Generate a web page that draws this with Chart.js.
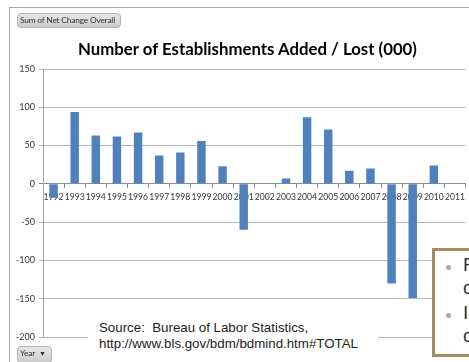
<!DOCTYPE html>
<html>
<head>
<meta charset="utf-8">
<script src="https://cdn.jsdelivr.net/npm/chart.js@4.4.1/dist/chart.umd.min.js"></script>
<style>
body { margin: 0; background: #fff; }
#wrap { position: relative; width: 469px; height: 362px; overflow: hidden; font-family: Lato, sans-serif; }
#myChart { position: absolute; left: 0; top: 0; }
.frame { position: absolute; left: 9px; top: 7px; width: 480px; height: 380px; border-left: 1px solid #a6a6a6; border-top: 1px solid #a6a6a6; }
.title { position: absolute; left: 0; top: 39px; width: 495px; text-align: center; font-size: 16.8px; font-weight: bold; line-height: 20px; color: #000; white-space: nowrap; }
.btn { position: absolute; box-sizing: border-box; background: linear-gradient(#e8e8e8, #cbcbcb); border: 1px solid #b3b3b3; border-radius: 4px; font-size: 8.4px; color: #333; line-height: 13px; padding: 0 2px; white-space: nowrap; letter-spacing: -0.2px; overflow: hidden; }
.source { position: absolute; left: 88px; top: 318px; width: 290px; height: 44px; background: #fff; font-family: "Liberation Sans", Arial, sans-serif; font-size: 13.3px; line-height: 16px; color: #222; padding-left: 11px; padding-top: 2px; box-sizing: border-box; }
.callout { position: absolute; left: 432px; top: 248px; width: 60px; height: 109px; box-sizing: border-box; border: 3px solid #a58c5f; background: #fff; font-family: "Liberation Sans", Arial, sans-serif; font-size: 19px; line-height: 23px; color: #333; }
.callout div { position: absolute; left: 28px; white-space: nowrap; }
.callout .dot { position: absolute; left: 11px; width: 5px; height: 5px; border-radius: 50%; background: #9aaea4; }
</style>
</head>
<body>
<div id="wrap">
  <div class="frame"></div>
  <canvas id="myChart" width="469" height="362"></canvas>
  <div class="title">Number of Establishments Added / Lost (000)</div>
  <div class="btn" style="left:17px;top:13px;width:104px;height:15px;">Sum of Net Change Overall</div>
  <div class="btn" style="left:17px;top:346px;width:35px;height:18px;">Year <span style="font-size:7px;margin-left:2px">&#9660;</span></div>
  <div class="source">Source:&nbsp; Bureau of Labor Statistics,<br>http://www.bls.gov/bdm/bdmind.htm#TOTAL</div>
  <div class="callout">
    <span class="dot" style="top:14px"></span><div style="top:2px">F</div>
    <div style="top:25px">c</div>
    <span class="dot" style="top:62px"></span><div style="top:50px">I</div>
    <div style="top:73px">c</div>
  </div>
</div>
<script>
let years = ['1992','1993','1994','1995','1996','1997','1998','1999','2000','2001',
             '2002','2003','2004','2005','2006','2007','2008','2009','2010','2011'];
let netChange = [-18, 94, 63, 62, 67, 37, 41, 56, 23, -60,
                 0, 7, 87, 71, 17, 20, -130, -149, 24, 0];
let yTicks = [-200, -150, -100, -50, 0, 50, 100, 150];

let ctx = document.getElementById('myChart').getContext('2d');

let chart = new Chart(ctx, {
    type: 'bar',
    data: {
        labels: years,
        datasets: [{
            label: 'Sum of Net Change Overall',
            data: netChange,
            backgroundColor: '#4f81bd',
            barPercentage: 0.8,
            categoryPercentage: 0.5
        }]
    },
    options: {
        responsive: false,
        animation: false,
        // chart area: 43..467 x 69..337
        layout: { padding: { top: 69, left: 10, right: 2, bottom: 25 } },
        plugins: {
            legend: { display: false },
            tooltip: { enabled: false },
            title: { display: false }
        },
        scales: {
            x: {
                position: { y: 0 },
                z: 1,
                grid: { drawOnChartArea: false, drawTicks: true, tickLength: 4, color: '#8c8c8c' },
                border: { color: '#8c8c8c' },
                ticks: {
                    autoSkip: false, maxRotation: 0, minRotation: 0, padding: 4,
                    color: '#333', font: { family: 'Lato', size: 8.6 }
                }
            },
            y: {
                min: yTicks[0],
                max: yTicks[yTicks.length - 1],
                afterFit: function(scale) { scale.width = 33; },
                afterBuildTicks: function(scale) { scale.ticks = yTicks.map(v => ({ value: v })); },
                grid: {
                    tickLength: 4,
                    color: function(c) { return c.tick && c.tick.value === 0 ? '#8c8c8c' : '#b8b8b8'; }
                },
                border: { color: '#a6a6a6' },
                ticks: {
                    padding: 4, color: '#333', font: { family: 'Lato', size: 9 }
                }
            }
        }
    }
});
</script>
</body>
</html>
